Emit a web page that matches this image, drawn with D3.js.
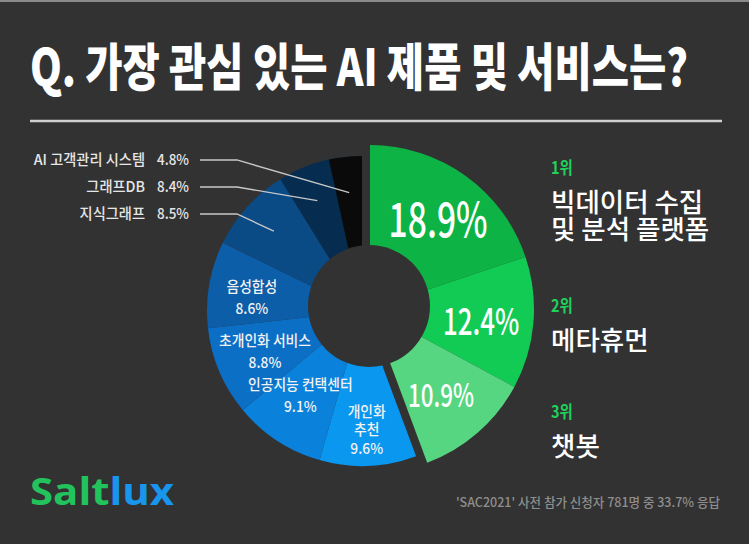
<!DOCTYPE html>
<html><head><meta charset="utf-8">
<script src="https://cdn.jsdelivr.net/npm/d3@7"></script>
<style>html,body{margin:0;padding:0;background:#323232;} svg{display:block}</style>
</head><body><svg id="c" width="749" height="544"></svg>
<script>
// ---------- data ----------
const categories = ["빅데이터 수집 및 분석 플랫폼","메타휴먼","챗봇","개인화 추천","인공지능 컨택센터","초개인화 서비스","음성합성","지식그래프","그래프DB","AI 고객관리 시스템"];
const values = [18.9, 12.4, 10.9, 9.6, 9.1, 8.8, 8.6, 8.5, 8.4, 4.8];
const colors = ["#0db445","#12cb55","#56d681","#0a97f0","#0a82dc","#0c6fc6","#0c5ea8","#0a4a85","#062c4f","#0a0a0a"];
const ranks = ["1위","2위","3위"];
const rankNames = [["빅데이터 수집","및 분석 플랫폼"],["메타휴먼"],["챗봇"]];
const insideLabels = [[],[],[],["개인화","추천"],["인공지능 컨택센터"],["초개인화 서비스"],["음성합성"],[],[],[]];
const calloutOrder = [9, 8, 7];
const title = "Q. 가장 관심 있는 AI 제품 및 서비스는?";
const source = "'SAC2021' 사전 참가 신청자 781명 중 33.7% 응답";
const brand = [["Salt","#22c35c"],["lux","#1896ee"]];

// ---------- drawing ----------
const svg = d3.select("#c");
const BG = "#323232";
const FONT = "'Noto Sans CJK KR', 'Noto Sans', sans-serif";
svg.append("rect").attr("width",749).attr("height",544).attr("fill",BG);
svg.append("rect").attr("width",749).attr("height",2).attr("fill","#8a8a8a");

// title (scaled horizontally to fit)
const tg = svg.append("g");
const tt = tg.append("text").attr("x",0).attr("y",0)
  .attr("font-family",FONT).attr("font-weight",900).attr("font-size",51)
  .attr("fill","#fff").text(title);
const tw = tt.node().getComputedTextLength();
tg.attr("transform",`translate(30,86) scale(${658/tw},1)`);
svg.append("line").attr("x1",30).attr("x2",722).attr("y1",121).attr("y2",121)
  .attr("stroke","#cfcfcf").attr("stroke-width",2.5);

// angle layout: main slices fill the circle, last slice overlays the end
const mainCount = 9;
const ang = d3.scaleLinear().domain([0, d3.sum(values.slice(0, mainCount))]).range([0, 2*Math.PI]);
let cum = 0;
const slices = values.map((v,i) => {
  let s, e;
  if (i < mainCount) { s = ang(cum); e = ang(cum + v); cum += v; }
  else { e = 2*Math.PI; s = e - ang(v) * 0.68; }
  return {i, v, startAngle: s, endAngle: e, top: i < 3};
});
slices.forEach((d,i) => { d.visEnd = (i === mainCount-1) ? slices[mainCount].startAngle : d.endAngle; });

const geo = {
  top:   {cx: 370, cy: 309, r: 164},
  other: {cx: 362, cy: 311, r: 155}
};
const arcs = {
  top: d3.arc().innerRadius(0).outerRadius(geo.top.r),
  other: d3.arc().innerRadius(0).outerRadius(geo.other.r)
};
const gOf = d => d.top ? geo.top : geo.other;

svg.append("g").selectAll("path").data(slices).join("path")
  .attr("transform", d => `translate(${gOf(d).cx},${gOf(d).cy})`)
  .attr("d", d => (d.top ? arcs.top : arcs.other)(d))
  .attr("fill", d => colors[d.i]);

// hole
svg.append("circle").attr("cx",369).attr("cy",306).attr("r",61).attr("fill",BG);

function polar(g, a, r){ return [g.cx + r*Math.sin(a), g.cy - r*Math.cos(a)]; }

// green value labels
const greenSize = [48, 37, 32];
slices.filter(d => d.top).forEach(d => {
  const g = gOf(d);
  const [x,y] = polar(g, (d.startAngle+d.endAngle)/2 + 0.03, 112);
  svg.append("g").attr("transform",`translate(${x},${y}) scale(0.7,1)`)
    .append("text").attr("text-anchor","middle").attr("dy","0.36em")
    .attr("font-family",FONT).attr("font-weight",500).attr("font-size",greenSize[d.i])
    .attr("fill","#fff").text(d.v.toFixed(1)+"%");
});

// blue value labels (radius / angle nudges per slice are styling)
const labelR = {3: 119, 4: 105, 5: 105, 6: 111};
const labelRot = {3: 0.0, 4: 0.05, 5: 0.01, 6: -0.05};
slices.filter(d => insideLabels[d.i].length).forEach(d => {
  const g = gOf(d);
  const [x,y] = polar(g, (d.startAngle+d.endAngle)/2 + labelRot[d.i], labelR[d.i]);
  const lines = insideLabels[d.i].concat([d.v.toFixed(1)+"%"]);
  const lh = lines.length > 2 ? 18.5 : 22;
  const txt = svg.append("g").attr("transform",`translate(${x},${y}) scale(0.92,1)`)
    .append("text").attr("text-anchor","middle")
    .attr("font-family",FONT).attr("font-weight",500).attr("font-size",15)
    .attr("fill","#f2f2f2");
  lines.forEach((t,k) => {
    txt.append("tspan").attr("x",0)
      .attr("y", (k - (lines.length-1)/2) * lh + 5.4).text(t);
  });
});

// callouts on the left
calloutOrder.forEach((idx,k) => {
  const d = slices[idx];
  const yRow = 160 + k*27;
  const g = gOf(d);
  const [ex,ey] = polar(g, (d.startAngle + d.visEnd)/2, 119);
  svg.append("polyline").attr("points",`200,${yRow} 237,${yRow} ${ex},${ey}`)
    .attr("fill","none").attr("stroke","#c8c8c8").attr("stroke-width",1.3);
  const gl = svg.append("g").attr("transform",`translate(145,${yRow}) scale(0.95,1)`);
  gl.append("text").attr("text-anchor","end").attr("dy","0.36em")
    .attr("font-family",FONT).attr("font-weight",500).attr("font-size",15)
    .attr("fill","#e6e6e6").text(categories[idx]);
  const gp = svg.append("g").attr("transform",`translate(189,${yRow}) scale(0.9,1)`);
  gp.append("text").attr("text-anchor","end").attr("dy","0.36em")
    .attr("font-family",FONT).attr("font-weight",500).attr("font-size",15)
    .attr("fill","#e6e6e6").text(d.v.toFixed(1)+"%");
});

// ranking on the right
const rankY = [174, 312, 418];
ranks.forEach((r,k) => {
  svg.append("g").attr("transform",`translate(551,${rankY[k]}) scale(0.85,1)`)
    .append("text").attr("font-family",FONT).attr("font-weight",700).attr("font-size",17)
    .attr("fill","#1fd15b").text(r);
  const txt = svg.append("text").attr("font-family",FONT).attr("font-weight",500)
    .attr("font-size",26.5).attr("fill","#fff");
  rankNames[k].forEach((t,j) => {
    txt.append("tspan").attr("x",551).attr("y",rankY[k] + 38 + j*26.5).text(t);
  });
});

// brand
const bt = svg.append("text").attr("x",30).attr("y",505)
  .attr("font-family","'Open Sans','Noto Sans',sans-serif").attr("font-weight",700).attr("font-size",38)
  .attr("textLength",144).attr("lengthAdjust","spacingAndGlyphs");
brand.forEach(([t,c]) => bt.append("tspan").attr("fill",c).text(t));

// source
svg.append("text").attr("x",720).attr("y",507).attr("text-anchor","end")
  .attr("font-family",FONT).attr("font-weight",500).attr("font-size",13)
  .attr("fill","#8e8e8e").attr("textLength",264).attr("lengthAdjust","spacingAndGlyphs")
  .text(source);
</script></body></html>
